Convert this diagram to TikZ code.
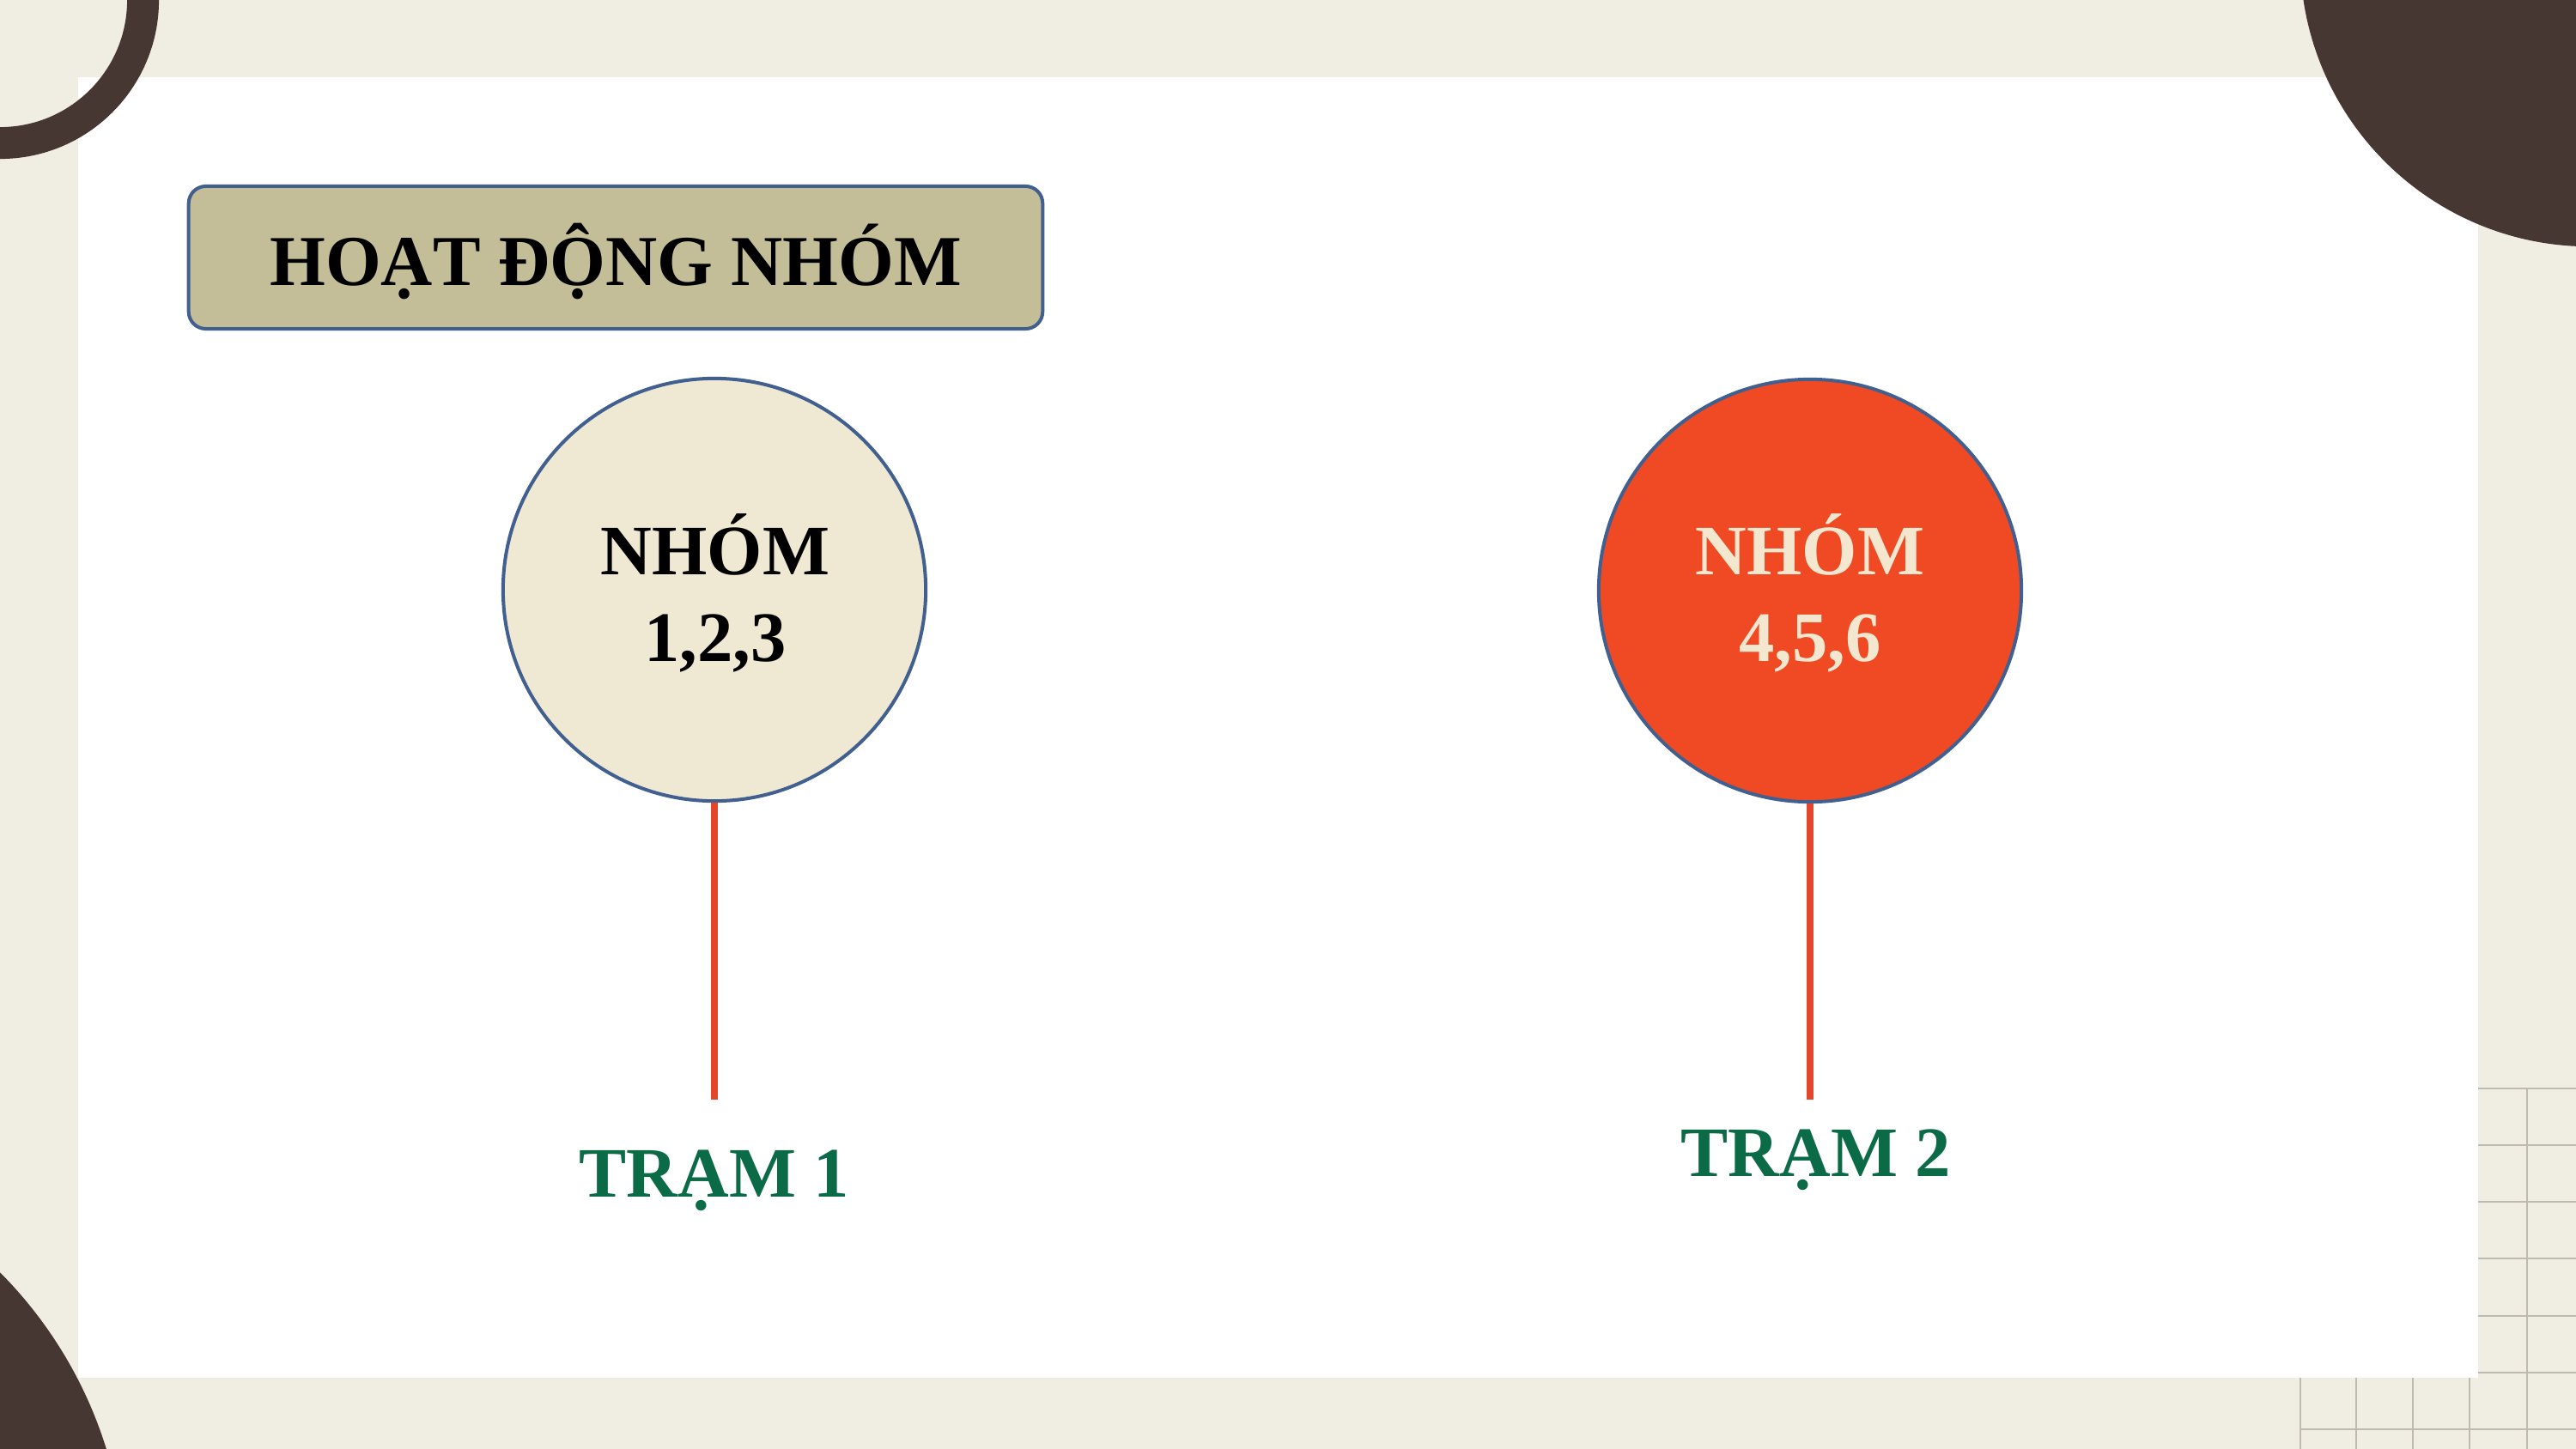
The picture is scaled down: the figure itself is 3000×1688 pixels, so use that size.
\documentclass[tikz,border=0pt]{standalone}
\usepackage{fontspec}
\setmainfont{Liberation Serif}
\definecolor{creambg}{HTML}{F0EDE2}
\definecolor{darkbrown}{HTML}{463733}
\definecolor{gridgray}{HTML}{BEBAAE}
\definecolor{titlefill}{HTML}{C3BE98}
\definecolor{edgeblue}{HTML}{41608F}
\definecolor{circlecream}{HTML}{EFE8D3}
\definecolor{circlered}{HTML}{EF4A23}
\definecolor{textcream}{HTML}{F3E7CF}
\definecolor{linered}{HTML}{E3462A}
\definecolor{stgreen}{HTML}{0B6B47}
\tikzset{
  gridline/.style={draw=gridgray, line width=0.025cm},
  titlebox/.style={draw=edgeblue, line width=0.04cm, fill=titlefill, rounded corners=0.2cm,
    minimum width=9.94cm, minimum height=1.66cm, inner sep=0pt},
  groupcircle/.style={circle, draw=edgeblue, line width=0.04cm, minimum size=4.92cm, inner sep=0pt},
  bigtext/.style={anchor=base, inner sep=0pt, font=\bfseries\fontsize{23.5pt}{28pt}\selectfont},
  stationtext/.style={anchor=base, inner sep=0pt, text=stgreen, font=\bfseries\fontsize{23.5pt}{28pt}\selectfont},
  redline/.style={draw=linered, line width=0.085cm}
}
\begin{document}
\begin{tikzpicture}[x=0.01cm, y=-0.01cm]
\useasboundingbox (0,0) rectangle (3000,1688);
\clip (0,0) rectangle (3000,1688);
% background
\fill[creambg] (0,0) rectangle (3000,1688);
% grid
\foreach \gx in {2679,2744,2810,2876,2943} {\draw[gridline] (\gx,1268) -- (\gx,1688);}
\foreach \gy in {1268,1334,1400,1466,1533,1599,1665} {\draw[gridline] (2679,\gy) -- (3000,\gy);}
% white panel
\fill[white] (91,90) rectangle (2886,1605);
% decorative shapes
\draw[darkbrown, line width=0.37cm] (0,0) circle[radius=1.665cm];
\fill[darkbrown] (3016,-50) circle[radius=3.37cm];
\fill[darkbrown] (-357,1837) circle[radius=5.03cm];
% title
\node[titlebox] (title) at (717,300) {};
\node[anchor=base, inner sep=0pt, font=\bfseries\fontsize{23.7pt}{28pt}\selectfont] (titletext) at (717,332) {HOẠT ĐỘNG NHÓM};
% group circles
\node[groupcircle, fill=circlecream] (g1) at (832,687) {};
\node[groupcircle, fill=circlered] (g2) at (2108,688) {};
\node[bigtext] (g1a) at (833,669) {NHÓM};
\node[bigtext] (g1b) at (833,770) {1,2,3};
\node[bigtext, text=textcream] (g2a) at (2108,669) {NHÓM};
\node[bigtext, text=textcream] (g2b) at (2108,770) {4,5,6};
% connectors
\coordinate (e1) at (832,1281);
\coordinate (e2) at (2108,1281);
\draw[redline] (g1.south) -- (e1);
\draw[redline] (g2.south) -- (e2);
% stations
\node[stationtext] (s1) at (832,1394) {TRẠM 1};
\node[stationtext] (s2) at (2115,1370) {TRẠM 2};
\end{tikzpicture}
\end{document}
